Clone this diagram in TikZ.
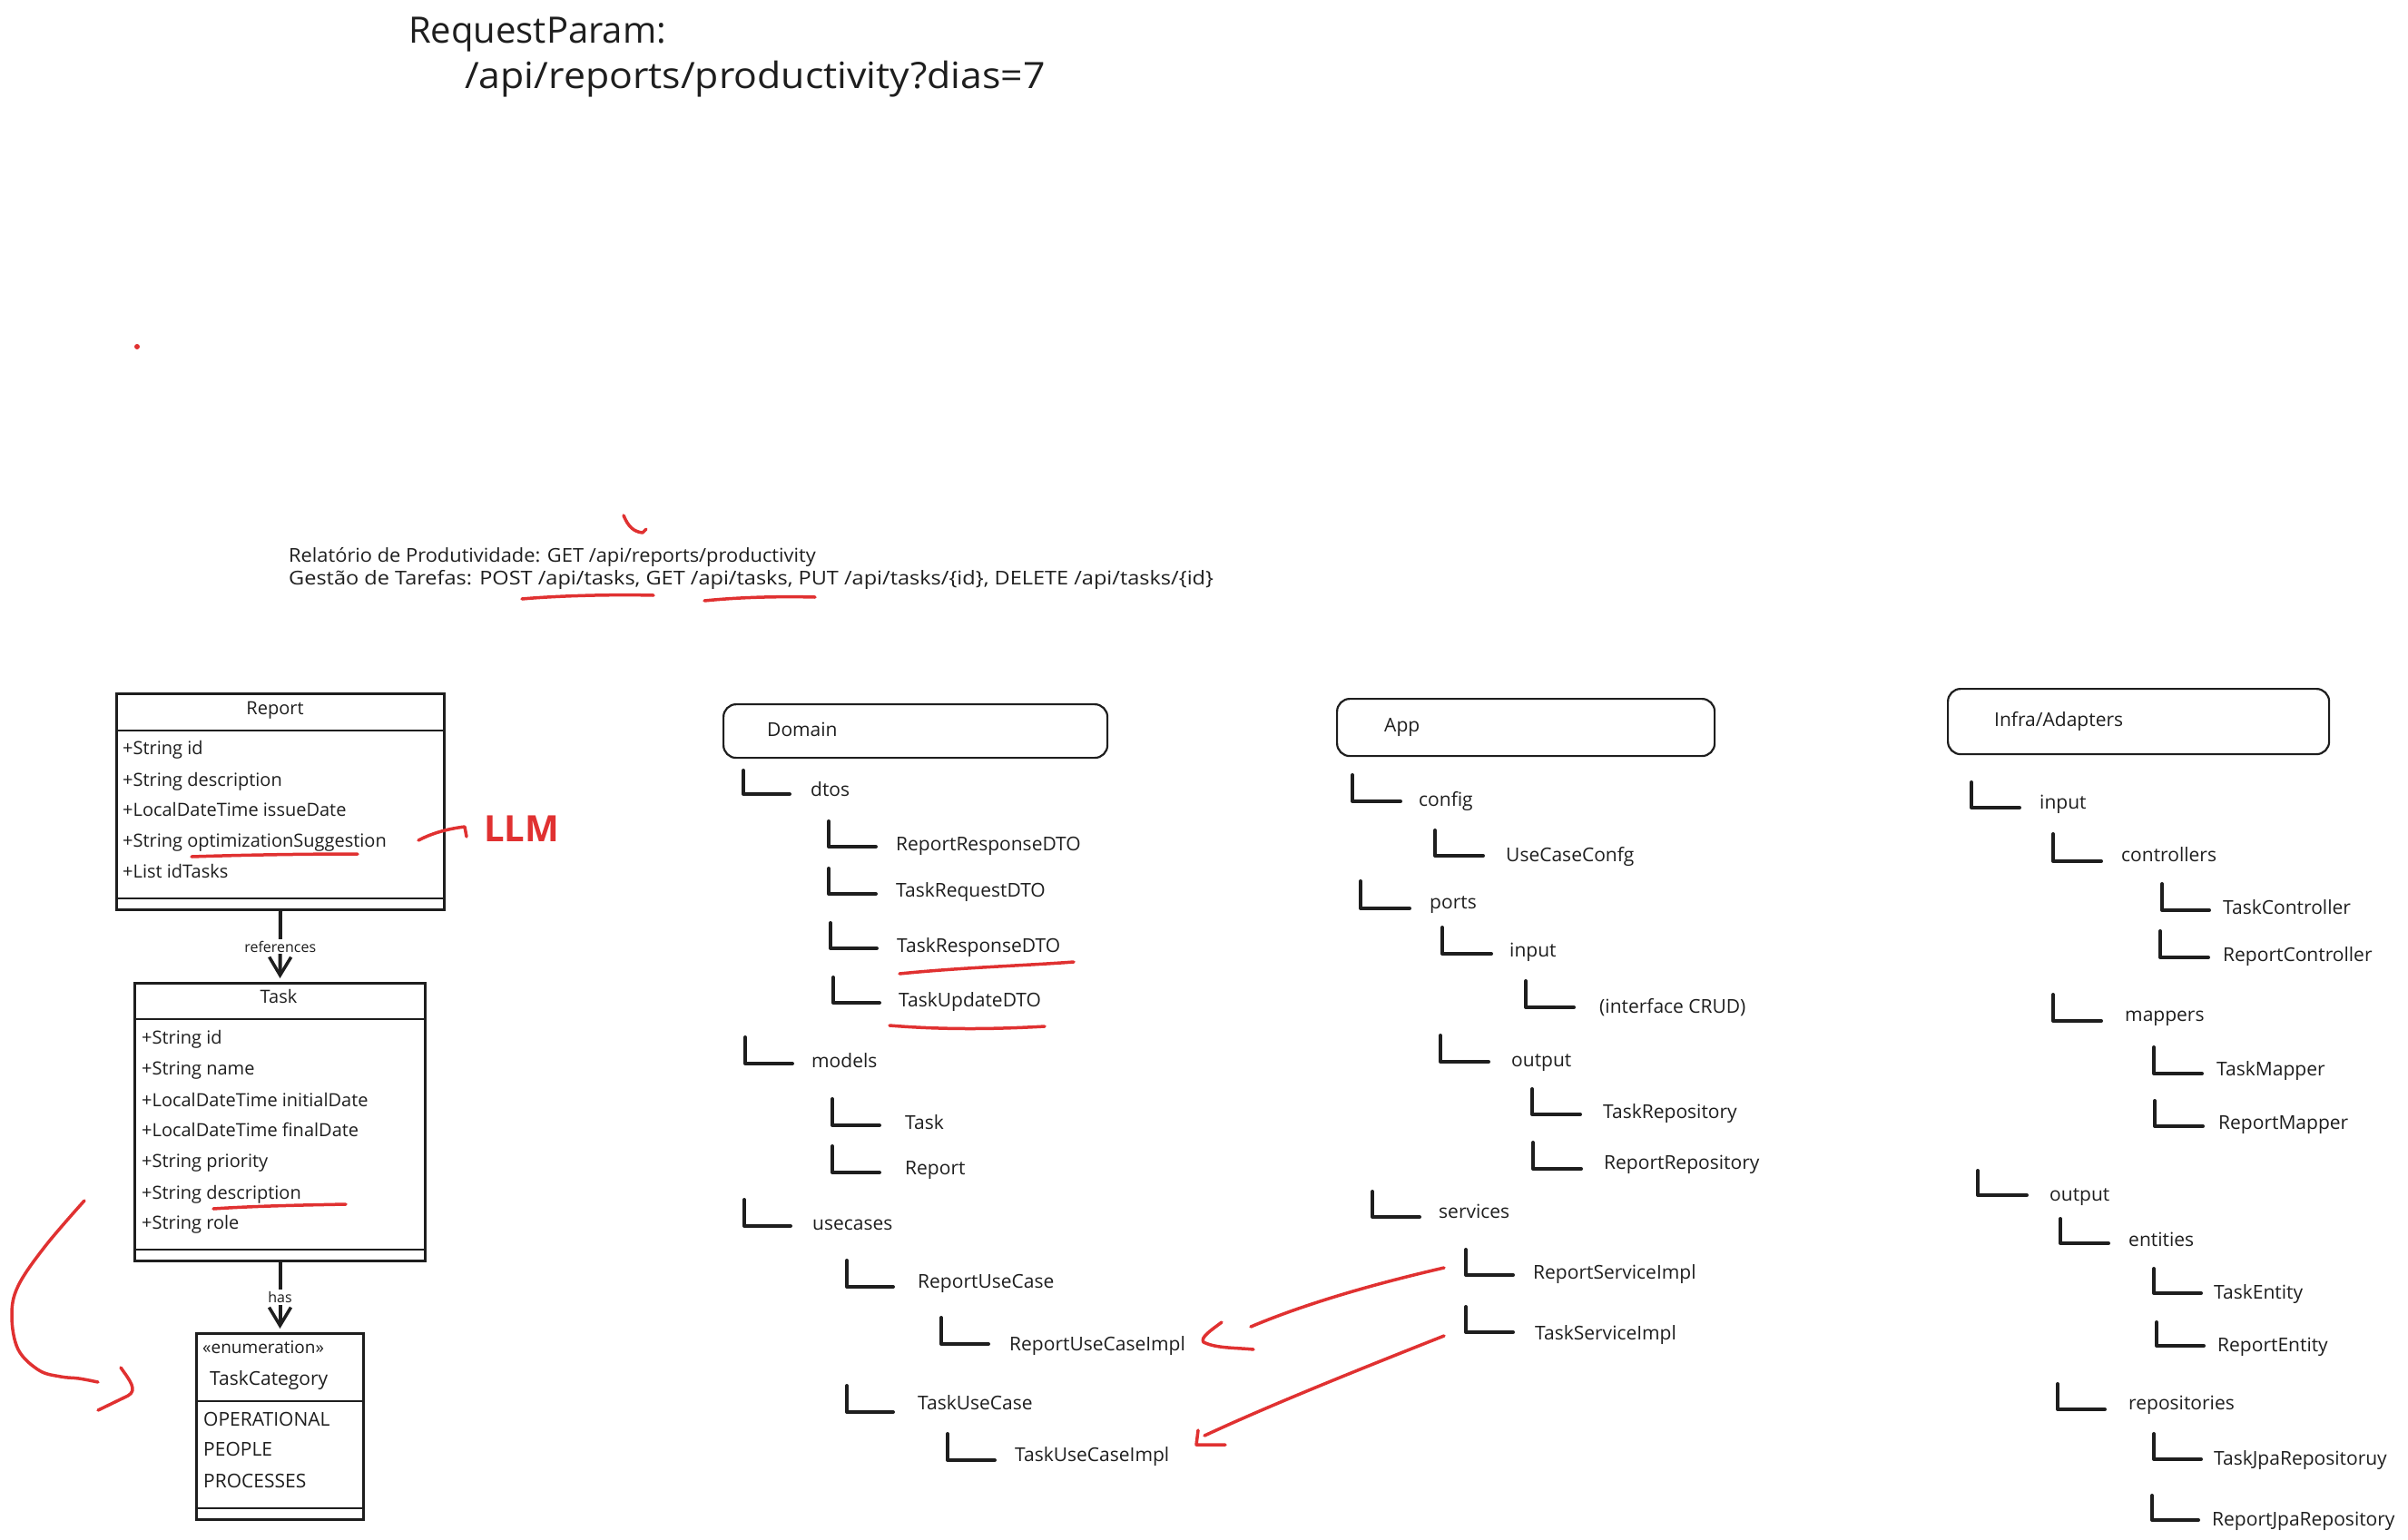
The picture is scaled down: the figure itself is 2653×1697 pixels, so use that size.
\documentclass[tikz,border=0pt]{standalone}
\usepackage{graphicx}
\usepackage{fontspec}
\setmainfont{Open Sans}
\usetikzlibrary{arrows.meta}

\definecolor{ink}{HTML}{1E1E1E}
\definecolor{pen}{HTML}{E03131}

\tikzset{
  elbow/.style={ink, line width=4pt, line cap=round, line join=round},
  item/.style={anchor=west, inner sep=0pt, text height=14pt, text depth=2pt,
    font=\fontsize{21pt}{25pt}\selectfont, text=ink},
  attr/.style={anchor=west, inner sep=0pt, text height=14pt, text depth=2pt,
    font=\fontsize{20pt}{24pt}\selectfont, text=ink},
  enumval/.style={attr, font=\fontsize{21pt}{25pt}\selectfont},
  umlbox/.style={draw=ink, line width=3pt, anchor=north west, inner sep=0pt},
  sep/.style={ink, line width=2pt},
  layer/.style={draw=ink, line width=2.2pt, rounded corners=14pt, anchor=north west, inner sep=0pt},
  assoc/.style={ink, line width=4pt, -{Straight Barb[length=20pt,width=24pt,line width=3.5pt]}, shorten >=4pt},
  lab/.style={fill=white, inner sep=2pt, font=\fontsize{16pt}{18pt}\selectfont, text=ink},
  redpen/.style={pen, line width=3.5pt, line cap=round, line join=round},
  heading/.style={anchor=base west, inner sep=0pt, font=\fontsize{40pt}{46pt}\selectfont, text=ink},
}

% one entry of a package tree: elbow (x, top, bottom, right) and its label
\newcommand\treeleaf[8]{%
  \draw[elbow] (#1,#2) -- (#1,#3) -- (#4,#3);
  \node[item] (#7) at (#5,#6) {#8};
}

\begin{document}
\begin{tikzpicture}[x=1pt, y=-1pt]
\useasboundingbox (0,0) rectangle (2653,1697);

% ---------- heading ----------
\node[heading] (reqparam) at (450,47) {RequestParam:};
\node[heading] (requrl) at (512,97) {\scalebox{1.07}[1]{/api/reports/productivity?dias=7}};

\fill[pen] (151,382) circle (3pt);
\draw[redpen] (687,568) .. controls (692,580) and (698,586) .. (708,587) -- (712,583);

% ---------- endpoints ----------
\node[item] (ep1) at (318,613) {\scalebox{1.04}[1]{Relatório de Produtividade: GET /api/reports/productivity}};
\node[item] (ep2) at (318,638) {\scalebox{1.12}[1]{Gestão de Tarefas: POST /api/tasks, GET /api/tasks, PUT /api/tasks/\{id\}, DELETE /api/tasks/\{id\}}};
\draw[redpen] (575,660) .. controls (620,656) and (680,655) .. (720,656);
\draw[redpen] (776,662) .. controls (815,658) and (860,657) .. (898,658);

% ---------- class Report ----------
\node[umlbox, minimum width=361pt, minimum height=238pt] (report) at (127,763) {};
\draw[sep] (127,805) -- (488,805);
\draw[sep] (127,990) -- (488,990);
\node[attr, anchor=center] (reporttitle) at (303,781) {Report};
\node[attr] (ra1) at (135,825) {+String id};
\node[attr] (ra2) at (135,860) {+String description};
\node[attr] (ra3) at (135,893) {+LocalDateTime issueDate};
\node[attr] (ra4) at (135,927) {+String optimizationSuggestion};
\node[attr] (ra5) at (135,961) {+List idTasks};
\draw[redpen] (211,944) .. controls (270,942) and (340,941) .. (394,941);

% LLM note
\node[anchor=west, inner sep=0pt, font=\fontsize{40pt}{46pt}\selectfont\bfseries, text=pen] (llm) at (533,913) {LLM};
\coordinate (llmfrom) at (461,926);
\draw[redpen] (llmfrom) .. controls (478,917) and (496,913) .. (512,911) -- (514,922);

% ---------- class Task ----------
\node[umlbox, minimum width=320pt, minimum height=306pt] (task) at (147,1082) {};
\draw[sep] (147,1123) -- (467,1123);
\draw[sep] (147,1377) -- (467,1377);
\node[attr, anchor=center] (tasktitle) at (307,1099) {Task};
\node[attr] (ta1) at (156,1144) {+String id};
\node[attr] (ta2) at (156,1178) {+String name};
\node[attr] (ta3) at (156,1213) {+LocalDateTime initialDate};
\node[attr] (ta4) at (156,1246) {+LocalDateTime finalDate};
\node[attr] (ta5) at (156,1280) {+String priority};
\node[attr] (ta6) at (156,1315) {+String description};
\node[attr] (ta7) at (156,1348) {+String role};
\draw[redpen] (235,1332) .. controls (280,1329) and (330,1328) .. (381,1327);

% ---------- enumeration TaskCategory ----------
\node[umlbox, minimum width=184pt, minimum height=205pt] (taskcat) at (215,1468) {};
\draw[sep] (215,1544) -- (399,1544);
\draw[sep] (215,1662) -- (399,1662);
\node[attr, font=\fontsize{19pt}{23pt}\selectfont] (enumtag) at (223,1485) {«enumeration»};
\node[enumval] (enumname) at (231,1520) {TaskCategory};
\node[enumval] (ev1) at (224,1565) {OPERATIONAL};
\node[enumval] (ev2) at (224,1598) {PEOPLE};
\node[enumval] (ev3) at (224,1633) {PROCESSES};

% associations
\draw[assoc] (report.south) -- node[lab] {references} (task.north);
\draw[assoc] (task.south) -- node[lab] {has} (taskcat.north);

% hand-drawn arrow towards the enumeration
\draw[redpen] plot[smooth, tension=0.6] coordinates {(93,1323) (50,1373) (20,1417) (13,1450) (20,1487) (43,1510) (67,1517) (87,1519) (108,1523)};
\draw[redpen] (133,1507) .. controls (143,1521) and (152,1532) .. (141,1538) -- (108,1554);

% ---------- Domain ----------
\node[layer, minimum width=423pt, minimum height=59pt] (domain) at (796,775) {};
\node[item] (domainlbl) at (845,805) {Domain};
\treeleaf{819}{849}{875}{870}{893}{871}{dtos}{dtos}
\treeleaf{913}{905}{933}{965}{987}{931}{rrdto}{ReportResponseDTO}
\treeleaf{913}{957}{985}{965}{987}{982}{treqdto}{TaskRequestDTO}
\treeleaf{915}{1017}{1045}{966}{988}{1043}{tresdto}{TaskResponseDTO}
\treeleaf{918}{1077}{1105}{969}{990}{1103}{tupdto}{TaskUpdateDTO}
\treeleaf{821}{1143}{1172}{873}{894}{1170}{models}{models}
\treeleaf{917}{1211}{1240}{969}{997}{1238}{mtask}{Task}
\treeleaf{917}{1263}{1292}{969}{997}{1288}{mreport}{Report}
\treeleaf{820}{1322}{1351}{871}{895}{1349}{usecases}{usecases}
\treeleaf{933}{1389}{1418}{984}{1011}{1413}{rucase}{ReportUseCase}
\treeleaf{1037}{1452}{1481}{1089}{1112}{1482}{rucimpl}{ReportUseCaseImpl}
\treeleaf{933}{1527}{1556}{984}{1011}{1547}{tucase}{TaskUseCase}
\treeleaf{1044}{1580}{1609}{1096}{1118}{1604}{tucimpl}{TaskUseCaseImpl}
\draw[redpen] (991,1073) .. controls (1060,1066) and (1130,1064) .. (1183,1060);
\draw[redpen] (980,1130) .. controls (1040,1135) and (1100,1134) .. (1151,1131);

% ---------- App ----------
\node[layer, minimum width=416pt, minimum height=63pt] (app) at (1472,769) {};
\node[item] (applbl) at (1525,800) {App};
\treeleaf{1490}{854}{883}{1543}{1563}{882}{config}{config}
\treeleaf{1581}{915}{943}{1634}{1659}{943}{ucconfig}{UseCaseConfg}
\treeleaf{1499}{971}{1001}{1553}{1575}{995}{ports}{ports}
\treeleaf{1589}{1022}{1051}{1643}{1663}{1048}{pin}{input}
\treeleaf{1681}{1081}{1110}{1734}{1762}{1110}{crud}{(interface CRUD)}
\treeleaf{1587}{1141}{1170}{1640}{1665}{1169}{pout}{output}
\treeleaf{1688}{1200}{1228}{1741}{1766}{1226}{taskrepo}{TaskRepository}
\treeleaf{1689}{1259}{1288}{1742}{1767}{1282}{reportrepo}{ReportRepository}
\treeleaf{1512}{1313}{1341}{1564}{1585}{1336}{services}{services}
\treeleaf{1615}{1377}{1405}{1667}{1689}{1403}{rsimpl}{ReportServiceImpl}
\treeleaf{1615}{1440}{1468}{1667}{1691}{1470}{tsimpl}{TaskServiceImpl}

% services wired to the use case implementations
\coordinate (rsfrom) at (1591,1397);
\coordinate (rsto) at (1378,1462);
\coordinate (tsfrom) at (1591,1472);
\coordinate (tsto) at (1327,1582);
\draw[redpen] (rsfrom) .. controls (1500,1418) and (1430,1440) .. (rsto);
\draw[redpen] (1346,1457) .. controls (1334,1466) and (1322,1474) .. (1326,1479) .. controls (1340,1486) and (1362,1485) .. (1381,1487);
\draw[redpen] (tsfrom) .. controls (1500,1508) and (1400,1548) .. (tsto);
\draw[redpen] (1320,1576) -- (1318,1592) -- (1350,1592);

% ---------- Infra/Adapters ----------
\node[layer, minimum width=420pt, minimum height=72pt] (infra) at (2145,758) {};
\node[item] (infralbl) at (2197,794) {Infra/Adapters};
\treeleaf{2172}{862}{890}{2225}{2247}{885}{iin}{input}
\treeleaf{2262}{919}{949}{2315}{2337}{943}{controllers}{controllers}
\treeleaf{2382}{974}{1003}{2434}{2449}{1001}{taskctl}{TaskController}
\treeleaf{2380}{1026}{1055}{2433}{2449}{1053}{reportctl}{ReportController}
\treeleaf{2262}{1096}{1125}{2315}{2341}{1119}{mappers}{mappers}
\treeleaf{2373}{1154}{1183}{2426}{2442}{1179}{taskmap}{TaskMapper}
\treeleaf{2374}{1213}{1241}{2427}{2444}{1238}{reportmap}{ReportMapper}
\treeleaf{2179}{1290}{1317}{2233}{2258}{1317}{iout}{output}
\treeleaf{2270}{1343}{1370}{2323}{2345}{1367}{entities}{entities}
\treeleaf{2373}{1398}{1425}{2425}{2439}{1425}{taskent}{TaskEntity}
\treeleaf{2376}{1457}{1483}{2428}{2443}{1483}{reportent}{ReportEntity}
\treeleaf{2267}{1525}{1553}{2319}{2345}{1547}{repos}{repositories}
\treeleaf{2373}{1580}{1608}{2425}{2439}{1608}{taskjpa}{TaskJpaRepositoruy}
\treeleaf{2371}{1648}{1675}{2422}{2437}{1675}{reportjpa}{ReportJpaRepository}

\end{tikzpicture}
\end{document}
